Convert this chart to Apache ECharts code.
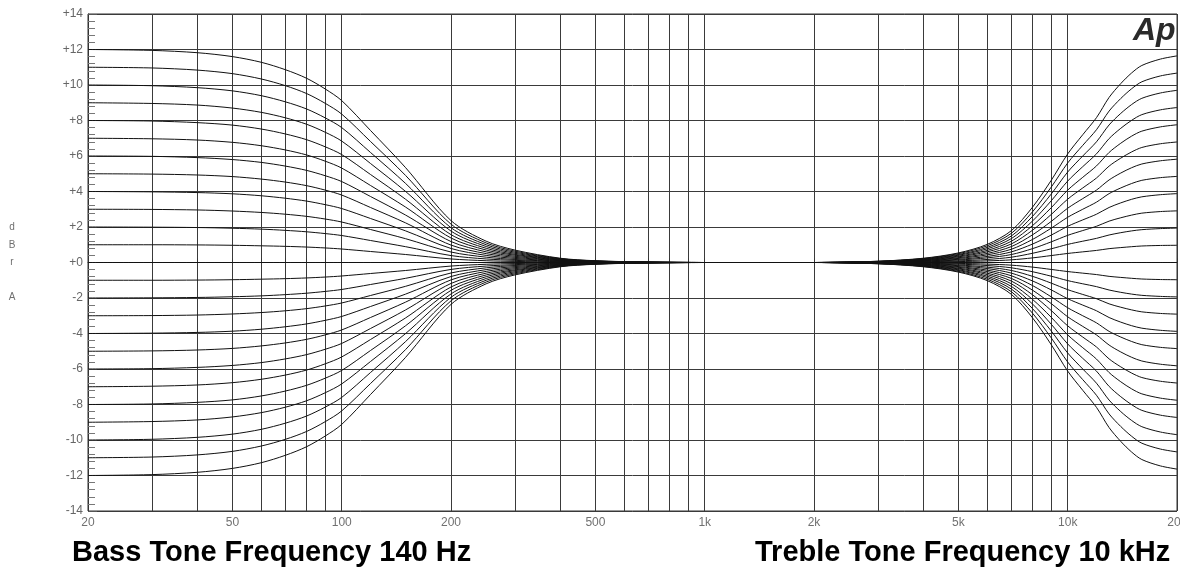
<!DOCTYPE html>
<html><head><meta charset="utf-8">
<script src="https://cdn.jsdelivr.net/npm/echarts@6/dist/echarts.min.js"></script>
<style>html,body{margin:0;padding:0;background:#fff}#c{width:1180px;height:570px}</style>
</head><body><div id="c"></div>
<script>
// Frequency points (Hz) at which curve values were read
const freqs = [20,30,40,50,60,70,80,90,100,120,150,200,250,300,400,500,700,1000,2000,3000,4000,5000,6000,7000,8000,9000,10000,11000,12000,13000,14000,15000,16000,18000,20000];

const curveP12 = [12,11.95,11.82,11.6,11.28,10.86,10.38,9.78,9.12,7.44,5.34,2.36,1.2,0.7,0.24,0.1,0.02,0,0,0.07,0.24,0.54,1.02,1.8,3.12,4.62,6.12,7.2,8.16,9.3,10.08,10.68,11.1,11.46,11.64];
const curveP11 = [11,10.96,10.84,10.64,10.34,9.96,9.52,8.97,8.36,6.82,4.9,2.16,1.1,0.64,0.22,0.09,0.02,0,0,0.07,0.22,0.5,0.94,1.65,2.86,4.24,5.61,6.6,7.48,8.53,9.24,9.79,10.18,10.51,10.67];
const curveP10 = [10,9.96,9.85,9.67,9.4,9.05,8.65,8.15,7.6,6.2,4.45,1.96,1.0,0.58,0.2,0.08,0.02,0,0,0.06,0.2,0.45,0.85,1.5,2.6,3.85,5.1,6.0,6.8,7.75,8.4,8.9,9.25,9.55,9.7];
const curveP9 = [9,8.96,8.87,8.7,8.46,8.15,7.79,7.34,6.84,5.58,4.0,1.77,0.9,0.52,0.18,0.07,0.02,0,0,0.05,0.18,0.41,0.77,1.35,2.34,3.47,4.59,5.4,6.12,6.98,7.56,8.01,8.33,8.6,8.73];
const curveP8 = [8,7.97,7.88,7.74,7.52,7.24,6.92,6.52,6.08,4.96,3.56,1.57,0.8,0.46,0.16,0.06,0.02,0,0,0.05,0.16,0.36,0.68,1.2,2.08,3.08,4.08,4.8,5.44,6.2,6.72,7.12,7.4,7.64,7.76];
const curveP7 = [7,6.97,6.9,6.77,6.58,6.34,6.06,5.71,5.32,4.34,3.12,1.38,0.7,0.41,0.14,0.06,0.01,0,0,0.04,0.14,0.32,0.6,1.05,1.82,2.7,3.57,4.2,4.76,5.43,5.88,6.23,6.48,6.69,6.79];
const curveP6 = [6,5.98,5.91,5.8,5.64,5.43,5.19,4.89,4.56,3.72,2.67,1.18,0.6,0.35,0.12,0.05,0.01,0,0,0.04,0.12,0.27,0.51,0.9,1.56,2.31,3.06,3.6,4.08,4.65,5.04,5.34,5.55,5.73,5.82];
const curveP5 = [5,4.98,4.93,4.84,4.7,4.53,4.33,4.08,3.8,3.1,2.23,0.98,0.5,0.29,0.1,0.04,0.01,0,0,0.03,0.1,0.23,0.43,0.75,1.3,1.93,2.55,3.0,3.4,3.88,4.2,4.45,4.63,4.78,4.85];
const curveP4 = [4,3.98,3.94,3.87,3.76,3.62,3.46,3.26,3.04,2.48,1.78,0.79,0.4,0.23,0.08,0.03,0.01,0,0,0.02,0.08,0.18,0.34,0.6,1.04,1.54,2.04,2.4,2.72,3.1,3.36,3.56,3.7,3.82,3.88];
const curveP3 = [3,2.99,2.96,2.9,2.82,2.72,2.6,2.45,2.28,1.86,1.34,0.59,0.3,0.17,0.06,0.02,0.01,0,0,0.02,0.06,0.14,0.26,0.45,0.78,1.16,1.53,1.8,2.04,2.33,2.52,2.67,2.78,2.87,2.91];
const curveP2 = [2,1.99,1.97,1.93,1.88,1.81,1.73,1.63,1.52,1.24,0.89,0.39,0.2,0.12,0.04,0.02,0,0,0,0.01,0.04,0.09,0.17,0.3,0.52,0.77,1.02,1.2,1.36,1.55,1.68,1.78,1.85,1.91,1.94];
const curveP1 = [1,1.0,0.99,0.97,0.94,0.91,0.87,0.82,0.76,0.62,0.45,0.2,0.1,0.06,0.02,0.01,0,0,0,0.01,0.02,0.05,0.09,0.15,0.26,0.39,0.51,0.6,0.68,0.78,0.84,0.89,0.93,0.96,0.97];
const curve0 = [0,0,0,0,0,0,0,0,0,0,0,0,0,0,0,0,0,0,0,0,0,0,0,0,0,0,0,0,0,0,0,0,0,0,0];
const curveM1 = [-1,-1.0,-0.99,-0.97,-0.94,-0.91,-0.87,-0.82,-0.76,-0.62,-0.45,-0.2,-0.1,-0.06,-0.02,-0.01,0,0,0,-0.01,-0.02,-0.05,-0.09,-0.15,-0.26,-0.39,-0.51,-0.6,-0.68,-0.78,-0.84,-0.89,-0.93,-0.96,-0.97];
const curveM2 = [-2,-1.99,-1.97,-1.93,-1.88,-1.81,-1.73,-1.63,-1.52,-1.24,-0.89,-0.39,-0.2,-0.12,-0.04,-0.02,0,0,0,-0.01,-0.04,-0.09,-0.17,-0.3,-0.52,-0.77,-1.02,-1.2,-1.36,-1.55,-1.68,-1.78,-1.85,-1.91,-1.94];
const curveM3 = [-3,-2.99,-2.96,-2.9,-2.82,-2.72,-2.6,-2.45,-2.28,-1.86,-1.34,-0.59,-0.3,-0.17,-0.06,-0.02,-0.01,0,0,-0.02,-0.06,-0.14,-0.26,-0.45,-0.78,-1.16,-1.53,-1.8,-2.04,-2.33,-2.52,-2.67,-2.78,-2.87,-2.91];
const curveM4 = [-4,-3.98,-3.94,-3.87,-3.76,-3.62,-3.46,-3.26,-3.04,-2.48,-1.78,-0.79,-0.4,-0.23,-0.08,-0.03,-0.01,0,0,-0.02,-0.08,-0.18,-0.34,-0.6,-1.04,-1.54,-2.04,-2.4,-2.72,-3.1,-3.36,-3.56,-3.7,-3.82,-3.88];
const curveM5 = [-5,-4.98,-4.93,-4.84,-4.7,-4.53,-4.33,-4.08,-3.8,-3.1,-2.23,-0.98,-0.5,-0.29,-0.1,-0.04,-0.01,0,0,-0.03,-0.1,-0.23,-0.43,-0.75,-1.3,-1.93,-2.55,-3.0,-3.4,-3.88,-4.2,-4.45,-4.63,-4.78,-4.85];
const curveM6 = [-6,-5.98,-5.91,-5.8,-5.64,-5.43,-5.19,-4.89,-4.56,-3.72,-2.67,-1.18,-0.6,-0.35,-0.12,-0.05,-0.01,0,0,-0.04,-0.12,-0.27,-0.51,-0.9,-1.56,-2.31,-3.06,-3.6,-4.08,-4.65,-5.04,-5.34,-5.55,-5.73,-5.82];
const curveM7 = [-7,-6.97,-6.9,-6.77,-6.58,-6.34,-6.06,-5.71,-5.32,-4.34,-3.12,-1.38,-0.7,-0.41,-0.14,-0.06,-0.01,0,0,-0.04,-0.14,-0.32,-0.6,-1.05,-1.82,-2.7,-3.57,-4.2,-4.76,-5.43,-5.88,-6.23,-6.48,-6.69,-6.79];
const curveM8 = [-8,-7.97,-7.88,-7.74,-7.52,-7.24,-6.92,-6.52,-6.08,-4.96,-3.56,-1.57,-0.8,-0.46,-0.16,-0.06,-0.02,0,0,-0.05,-0.16,-0.36,-0.68,-1.2,-2.08,-3.08,-4.08,-4.8,-5.44,-6.2,-6.72,-7.12,-7.4,-7.64,-7.76];
const curveM9 = [-9,-8.96,-8.87,-8.7,-8.46,-8.15,-7.79,-7.34,-6.84,-5.58,-4.0,-1.77,-0.9,-0.52,-0.18,-0.07,-0.02,0,0,-0.05,-0.18,-0.41,-0.77,-1.35,-2.34,-3.47,-4.59,-5.4,-6.12,-6.98,-7.56,-8.01,-8.33,-8.6,-8.73];
const curveM10 = [-10,-9.96,-9.85,-9.67,-9.4,-9.05,-8.65,-8.15,-7.6,-6.2,-4.45,-1.96,-1.0,-0.58,-0.2,-0.08,-0.02,0,0,-0.06,-0.2,-0.45,-0.85,-1.5,-2.6,-3.85,-5.1,-6.0,-6.8,-7.75,-8.4,-8.9,-9.25,-9.55,-9.7];
const curveM11 = [-11,-10.96,-10.84,-10.64,-10.34,-9.96,-9.52,-8.97,-8.36,-6.82,-4.9,-2.16,-1.1,-0.64,-0.22,-0.09,-0.02,0,0,-0.07,-0.22,-0.5,-0.94,-1.65,-2.86,-4.24,-5.61,-6.6,-7.48,-8.53,-9.24,-9.79,-10.18,-10.51,-10.67];
const curveM12 = [-12,-11.95,-11.82,-11.6,-11.28,-10.86,-10.38,-9.78,-9.12,-7.44,-5.34,-2.36,-1.2,-0.7,-0.24,-0.1,-0.02,0,0,-0.07,-0.24,-0.54,-1.02,-1.8,-3.12,-4.62,-6.12,-7.2,-8.16,-9.3,-10.08,-10.68,-11.1,-11.46,-11.64];

const curveNames = ['+12','+11','+10','+9','+8','+7','+6','+5','+4','+3','+2','+1','0','-1','-2','-3','-4','-5','-6','-7','-8','-9','-10','-11','-12'];
const curveList = [curveP12,curveP11,curveP10,curveP9,curveP8,curveP7,curveP6,curveP5,curveP4,curveP3,curveP2,curveP1,curve0,curveM1,curveM2,curveM3,curveM4,curveM5,curveM6,curveM7,curveM8,curveM9,curveM10,curveM11,curveM12];

// Axis ticks / labels
const gridFreqs = [20,30,40,50,60,70,80,90,100,200,300,400,500,600,700,800,900,1000,2000,3000,4000,5000,6000,7000,8000,9000,10000,20000];
const freqLabelValues = [20,50,100,200,500,1000,2000,5000,10000,20000];
const freqLabelTexts = ['20','50','100','200','500','1k','2k','5k','10k','20k'];
const yAxisName = 'd\nB\nr\n\nA';
const bassTitle = 'Bass Tone Frequency 140 Hz';
const trebleTitle = 'Treble Tone Frequency 10 kHz';
const logoText = 'Ap';

const chart = echarts.init(document.getElementById('c'));
const series = curveList.map((arr, i) => ({
  name: curveNames[i],
  type: 'line',
  data: freqs.map((f, j) => [f, arr[j]]),
  showSymbol: false,
  symbol: 'none',
  smooth: 0.3,
  silent: true,
  lineStyle: { color: '#111', width: 1 },
  z: 3
}));

chart.setOption({
  animation: false,
  backgroundColor: '#fff',
  grid: { left: 88, right: 3, top: 14, bottom: 59, outerBoundsMode: 'none', containLabel: false, show: true, borderColor: '#333', borderWidth: 1, backgroundColor: 'transparent' },
  xAxis: {
    type: 'log', logBase: 10, min: 20, max: 20000,
    axisLine: { show: true, lineStyle: { color: '#333', width: 1 } },
    axisTick: { show: true, inside: true, length: 4, customValues: gridFreqs, lineStyle: { color: '#333' } },
    axisLabel: {
      customValues: freqLabelValues,
      formatter: v => { const i = freqLabelValues.findIndex(x => Math.abs(x - v) / x < 1e-6); return i >= 0 ? freqLabelTexts[i] : ''; },
      color: '#707070', fontSize: 12, fontFamily: 'Liberation Sans, Arial', margin: 6
    },
    splitLine: { show: true, lineStyle: { color: '#3a3a3a', width: 1 } },
    minorTick: { show: false }, minorSplitLine: { show: false }
  },
  yAxis: {
    type: 'value', min: -14, max: 14, interval: 2,
    name: yAxisName, nameLocation: 'middle', nameRotate: 0, nameGap: 76,
    nameTextStyle: { color: '#707070', fontSize: 10, lineHeight: 17.5, fontFamily: 'Liberation Sans, Arial', align: 'center' },
    axisLine: { show: true, lineStyle: { color: '#333', width: 1 } },
    axisTick: { show: true, inside: true, length: 9, lineStyle: { color: '#555' } },
    minorTick: { show: true, splitNumber: 5, length: 7, lineStyle: { color: '#777' } },
    axisLabel: { formatter: v => (v >= 0 ? '+' + v : String(v)), color: '#666', fontSize: 12, fontFamily: 'Liberation Sans, Arial', margin: 5 },
    splitLine: { show: true, lineStyle: { color: '#3a3a3a', width: 1 } }
  },
  graphic: [
    { type: 'text', left: 72, top: 538, style: { text: bassTitle, fill: '#000', font: 'bold 29px "Liberation Sans", Arial' } },
    { type: 'text', left: 755, top: 538, style: { text: trebleTitle, fill: '#000', font: 'bold 29px "Liberation Sans", Arial' } },
    { type: 'text', left: 1133, top: 15, z: 10, style: { text: logoText, fill: '#2a2a2a', font: 'italic bold 32px "Liberation Sans", Arial' } }
  ],
  series: series
});
</script></body></html>
